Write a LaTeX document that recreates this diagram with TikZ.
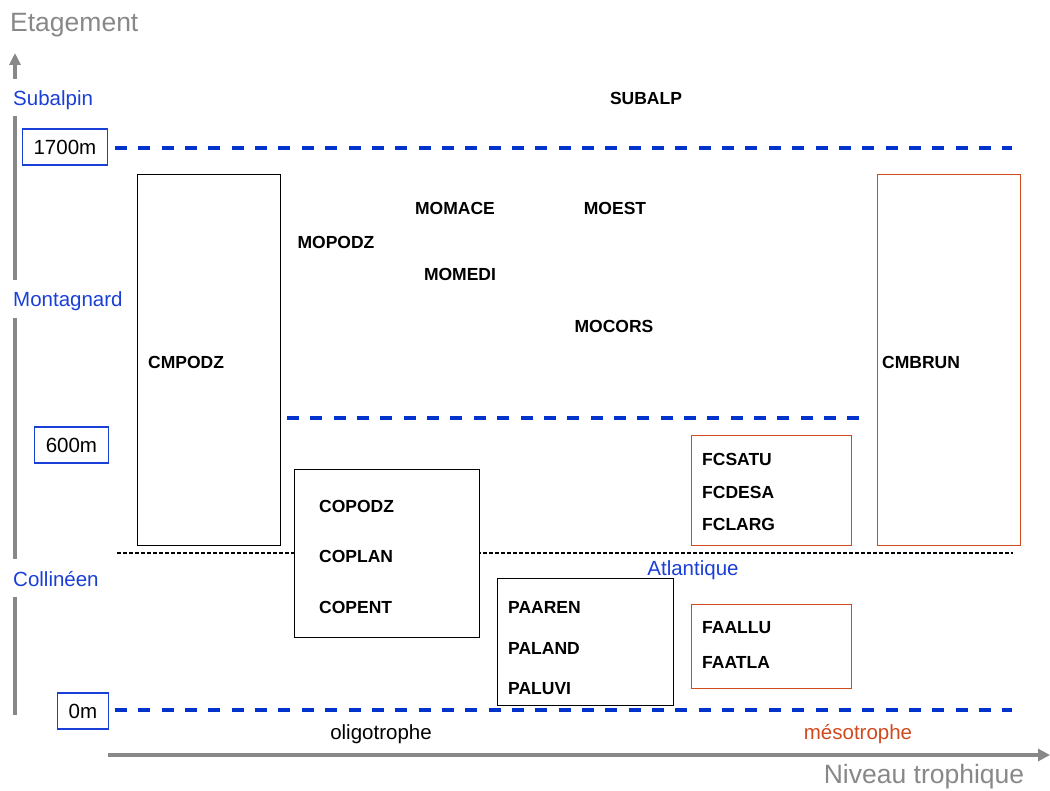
\documentclass[tikz,border=0pt]{standalone}
\usepackage{fontspec}
\setmainfont{Liberation Sans}
\usetikzlibrary{arrows.meta}
\definecolor{axgray}{HTML}{888888}
\definecolor{lblue}{HTML}{1A3FD6}
\definecolor{dblue}{HTML}{0033CC}
\definecolor{ored}{HTML}{D04A1E}
\tikzset{
  code/.style={font=\fontsize{17.5}{20}\selectfont\bfseries, inner sep=0pt, anchor=west},
  lvl/.style={font=\fontsize{20.5}{24}\selectfont, text=lblue, inner sep=0pt, anchor=west},
  reg/.style={font=\fontsize{20.5}{24}\selectfont, inner sep=0pt},
  axtitle/.style={font=\fontsize{26.5}{30}\selectfont, text=axgray, inner sep=0pt},
  bbox/.style={draw=black, line width=1.3pt, minimum width=0pt, minimum height=0pt, inner sep=0pt},
  rbox/.style={draw=ored, line width=1.3pt, inner sep=0pt},
  altbox/.style={draw=lblue, line width=1.2pt, font=\fontsize{20.5}{24}\selectfont, inner sep=0pt, anchor=east},
  bdash/.style={draw=dblue, line width=4pt, dash pattern=on 12pt off 11.35pt},
  kdash/.style={draw=black, line width=1.4pt, dash pattern=on 4pt off 2pt},
  axis/.style={draw=axgray, line width=4pt},
}
\begin{document}
\begin{tikzpicture}[x=1pt,y=-1pt]
\useasboundingbox (0,0) rectangle (1050,791);
% axes
\node[axtitle, anchor=west] (etag) at (10,25) {Etagement};
\coordinate (vtop0) at (15,79);
\coordinate (vtop1) at (15,53);
\draw[axis, -{Triangle[length=12pt,width=11pt]}] (vtop0) -- (vtop1);
\coordinate (v1a) at (15,116); \coordinate (v1b) at (15,280);
\coordinate (v2a) at (15,318); \coordinate (v2b) at (15,559);
\coordinate (v3a) at (15,597); \coordinate (v3b) at (15,715);
\draw[axis] (v1a) -- (v1b);
\draw[axis] (v2a) -- (v2b);
\draw[axis] (v3a) -- (v3b);
\coordinate (h0) at (108,755); \coordinate (h1) at (1050,755);
\draw[axis, -{Triangle[length=12pt,width=12pt]}] (h0) -- (h1);
\node[axtitle] (niv) at (924,777) {Niveau trophique};
% level labels
\node[lvl] (subalpin) at (13,100) {Subalpin};
\node[lvl] (montagnard) at (13,301) {Montagnard};
\node[lvl] (collineen) at (13,579) {Collinéen};
% altitude boxes
\node[altbox, minimum width=85pt, minimum height=36pt] (a1700) at (108,147) {1700m};
\node[altbox, minimum width=74pt, minimum height=36pt] (a600) at (109,445) {600m};
\node[altbox, minimum width=51pt, minimum height=36pt] (a0) at (109,711) {0m};
% dashed lines
\coordinate (d1a) at (115,148); \coordinate (d1b) at (1012,148);
\coordinate (d2a) at (287,418); \coordinate (d2b) at (862,418);
\coordinate (d3a) at (115,710); \coordinate (d3b) at (1012,710);
\draw[bdash] (d1a) -- (d1b);
\draw[bdash] (d2a) -- (d2b);
\draw[bdash] (d3a) -- (d3b);
\coordinate (k1a) at (117,553); \coordinate (k1b) at (1013,553);
\draw[kdash] (k1a) -- (k1b);
% boxes
\node[bbox, fill=white, minimum width=143pt, minimum height=371pt, anchor=north west] (bcm) at (137,174) {};
\node[rbox, minimum width=143pt, minimum height=371pt, anchor=north west] (bcb) at (877,174) {};
\node[bbox, fill=white, minimum width=185pt, minimum height=168pt, anchor=north west] (bco) at (294,469) {};
\node[bbox, fill=white, minimum width=176pt, minimum height=127pt, anchor=north west] (bpa) at (497,578) {};
\node[rbox, fill=white, minimum width=160pt, minimum height=110pt, anchor=north west] (bfc) at (691,435) {};
\node[rbox, fill=white, minimum width=160pt, minimum height=84pt, anchor=north west] (bfa) at (691,604) {};
% codes
\node[code, anchor=center] (subalp) at (646,98) {SUBALP};
\node[code, anchor=center] (momace) at (455,208) {MOMACE};
\node[code, anchor=center] (moest) at (615,208) {MOEST};
\node[code, anchor=center] (mopodz) at (336,242) {MOPODZ};
\node[code, anchor=center] (momedi) at (460,274) {MOMEDI};
\node[code, anchor=center] (mocors) at (614,326) {MOCORS};
\node[code] (cmpodz) at (148,362) {CMPODZ};
\node[code] (cmbrun) at (882,362) {CMBRUN};
\node[code] (copodz) at (319,506) {COPODZ};
\node[code] (coplan) at (319,556) {COPLAN};
\node[code] (copent) at (319,607) {COPENT};
\node[code] (paaren) at (508,607) {PAAREN};
\node[code] (paland) at (508,648) {PALAND};
\node[code] (paluvi) at (508,689) {PALUVI};
\node[code] (fcsatu) at (702,459) {FCSATU};
\node[code] (fcdesa) at (702,492) {FCDESA};
\node[code] (fclarg) at (702,524) {FCLARG};
\node[code] (faallu) at (702,628) {FAALLU};
\node[code] (faatla) at (702,662) {FAATLA};
% region labels
\node[reg, text=lblue] (atl) at (693,570) {Atlantique};
\node[reg] (oligo) at (381,734) {oligotrophe};
\node[reg, text=ored] (meso) at (858,734) {mésotrophe};
\end{tikzpicture}
\end{document}
